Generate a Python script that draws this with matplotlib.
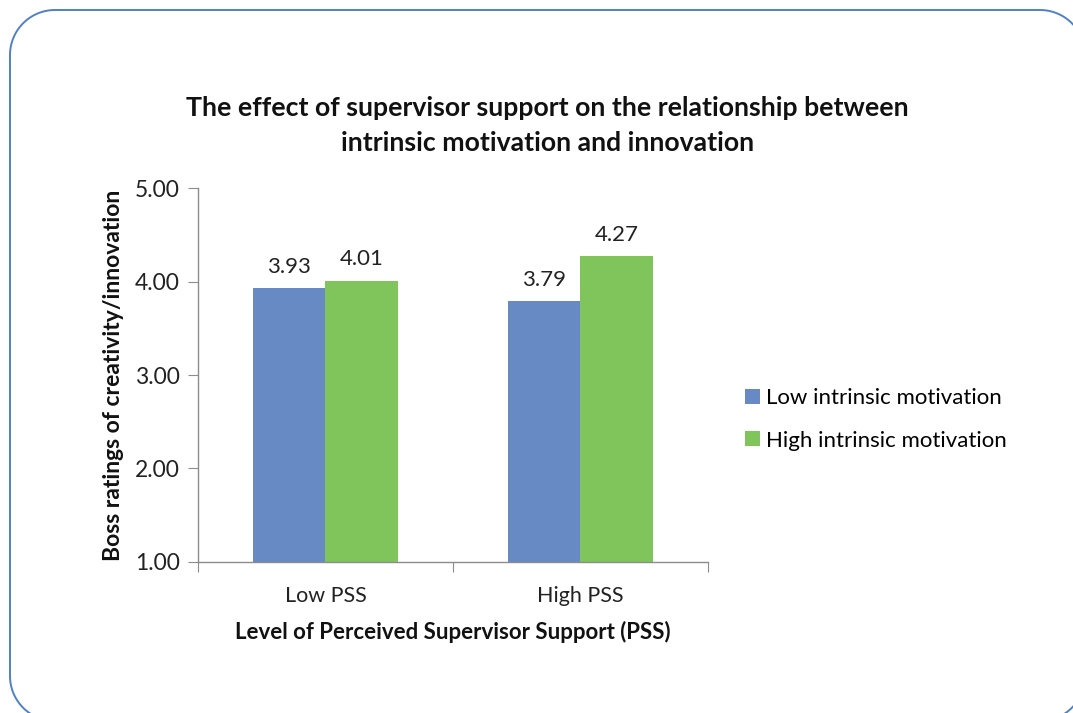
import numpy as np
import matplotlib
matplotlib.use("Agg")
import matplotlib.pyplot as plt
from matplotlib.lines import Line2D

plt.rcParams['font.family'] = ['Lato', 'DejaVu Sans']

# Datos del gráfico
categorias = ["Low PSS", "High PSS"]
serie_baja = [3.93, 3.79]
serie_alta = [4.01, 4.27]
nombres_series = ["Low intrinsic motivation", "High intrinsic motivation"]
ticks_y = [1.00, 2.00, 3.00, 4.00, 5.00]

color_azul = "#6789C4"
color_verde = "#80C45C"
color_eje = "#8C8C8C"
color_texto = "#222222"

fig = plt.figure(figsize=(10.73, 7.13), dpi=100)
ax = fig.add_axes([0.1845, 0.2118, 0.4753, 0.5245])

x = np.arange(len(categorias))
ancho = 0.286
b1 = ax.bar(x - ancho / 2, serie_baja, ancho, bottom=0, color=color_azul, label=nombres_series[0])
b2 = ax.bar(x + ancho / 2, serie_alta, ancho, bottom=0, color=color_verde, label=nombres_series[1])
ax.bar_label(b1, fmt="%.2f", padding=8, fontsize=16, color=color_texto)
ax.bar_label(b2, fmt="%.2f", padding=8, fontsize=16, color=color_texto)

ax.set_ylim(1, 5)
ax.set_xlim(-0.5, 1.5)
ax.set_yticks(ticks_y)
ax.set_yticklabels([f"{t:.2f}" for t in ticks_y], fontsize=16.5, color=color_texto)

# marcas del eje x en los límites de las categorías
ax.set_xticks([-0.5, 0.5, 1.5])
ax.set_xticklabels([])
ax.set_xticks(x, minor=True)
ax.set_xticklabels(categorias, minor=True, fontsize=15.5, color=color_texto)
ax.tick_params(axis="x", which="minor", length=0, pad=17)
ax.tick_params(axis="x", which="major", length=7, color=color_eje)
ax.tick_params(axis="y", length=7, color=color_eje, pad=6)

for s in ["top", "right"]:
    ax.spines[s].set_visible(False)
for s in ["left", "bottom"]:
    ax.spines[s].set_color(color_eje)
    ax.spines[s].set_linewidth(1.0)

ax.set_xlabel("Level of Perceived Supervisor Support (PSS)", fontsize=16,
              fontweight="bold", labelpad=11, color="#111111")
ax.set_ylabel("Boss ratings of creativity/innovation", fontsize=16.5,
              fontweight="bold", labelpad=8, color="#111111")

fig.text(0.51, 0.8245, "The effect of supervisor support on the relationship between\n"
         "intrinsic motivation and innovation", ha="center", va="center",
         fontsize=19.2, fontweight="bold", linespacing=1.55, color="#111111")

fig.legend(handles=[b1, b2], labels=nombres_series, loc="center left",
           bbox_to_anchor=(0.676, 0.412), frameon=False, fontsize=16,
           handlelength=0.65, handleheight=0.65, handletextpad=0.3,
           labelspacing=1.02)

# marco redondeado alrededor de la figura (en pulgadas)
izq, der, abajo, arriba, r = 0.10, 10.85, -0.08, 7.03, 0.45
t = np.linspace(0, np.pi / 2, 30)
xs = np.concatenate([der - r + r * np.cos(t), izq + r - r * np.sin(t),
                     izq + r - r * np.cos(t), der - r + r * np.sin(t)])
ys = np.concatenate([arriba - r + r * np.sin(t), arriba - r + r * np.cos(t),
                     abajo + r - r * np.sin(t), abajo + r - r * np.cos(t)])
xs = np.append(xs, xs[0])
ys = np.append(ys, ys[0])
fig.add_artist(Line2D(xs, ys, transform=fig.dpi_scale_trans, color="#4F81C7",
                      linewidth=1.4, clip_on=False))

fig.savefig("out.png", dpi=100)
